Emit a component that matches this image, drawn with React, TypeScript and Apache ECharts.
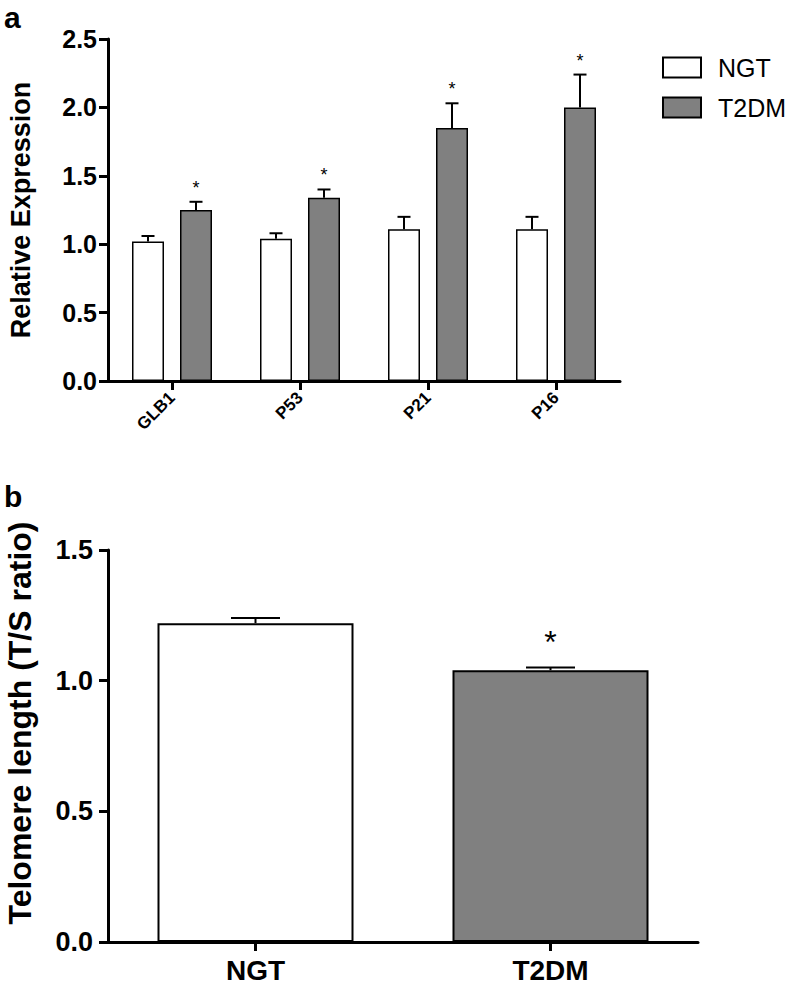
import React, { useEffect, useRef } from "react";
import * as echarts from "echarts";

const CATEGORIES_A = ["GLB1", "P53", "P21", "P16"];
const NGT_A = [1.02, 1.04, 1.11, 1.11];
const NGT_A_ERR_TOP = [1.06, 1.08, 1.2, 1.2];
const T2DM_A = [1.25, 1.34, 1.85, 2.0];
const T2DM_A_ERR_TOP = [1.31, 1.4, 2.03, 2.24];
const T2DM_A_SIG = ["*", "*", "*", "*"];
const NGT_A_SIG = ["", "", "", ""];

const CATEGORIES_B = ["NGT", "T2DM"];
const VALUES_B = [1.22, 1.04];
const ERR_TOP_B = [1.24, 1.05];
const SIG_B = ["", "*"];

const FONT = "'Liberation Sans', Arial, Helvetica, sans-serif";
const GRAY = "#808080";

function errorRenderer(offsetPx: number, capW: number, sig: string[], starSize: number, starGap: number) {
  return (params: any, api: any) => {
    const i = api.value(0);
    const base = api.coord([i, api.value(1)]);
    const top = api.coord([i, api.value(2)]);
    const cx = base[0] + offsetPx;
    const children: any[] = [
      { type: "line", shape: { x1: cx, y1: base[1], x2: cx, y2: top[1] }, style: { stroke: "#000", lineWidth: 2 } },
      { type: "line", shape: { x1: cx - capW / 2, y1: top[1], x2: cx + capW / 2, y2: top[1] }, style: { stroke: "#000", lineWidth: 2 } },
    ];
    const s = sig[params.dataIndex];
    if (s) {
      children.push({
        type: "text",
        style: { text: s, x: cx, y: top[1] - starGap, align: "center", verticalAlign: "bottom", fontSize: starSize, fontFamily: FONT, fill: "#000" },
      });
    }
    return { type: "group", children };
  };
}

export default function App() {
  const ref = useRef<HTMLDivElement>(null);
  useEffect(() => {
    document.body.style.margin = "0";
    const chart = echarts.init(ref.current!, undefined, { renderer: "svg" });
    const BAR_W_A = 32;
    const offA = (BAR_W_A * 1.5) / 2;
    const axisLine = { show: true, lineStyle: { color: "#000", width: 3 } };
    const option: any = {
      animation: false,
      backgroundColor: "#fff",
      textStyle: { fontFamily: FONT },
      graphic: [
        { type: "text", left: 4, top: 2, style: { text: "a", fontSize: 30, fontWeight: "bold", fontFamily: FONT, fill: "#000" } },
        { type: "text", left: 4, top: 481, style: { text: "b", fontSize: 30, fontWeight: "bold", fontFamily: FONT, fill: "#000" } },
      ],
      legend: {
        data: [
          { name: "NGT", icon: "rect" },
          { name: "T2DM", icon: "rect" },
        ],
        orient: "vertical",
        left: 657,
        top: 50,
        itemWidth: 38,
        itemHeight: 20,
        itemGap: 15,
        itemStyle: { borderColor: "#000", borderWidth: 2 },
        textStyle: { fontSize: 25, lineHeight: 25, fontFamily: FONT, color: "#000", padding: [0, 0, 0, 12] },
        selectedMode: false,
      },
      grid: [
        { left: 108, top: 39, width: 512, height: 342, outerBoundsMode: "none", containLabel: false },
        { left: 108, top: 550, width: 590, height: 392, outerBoundsMode: "none", containLabel: false },
      ],
      xAxis: [
        {
          type: "category",
          gridIndex: 0,
          data: CATEGORIES_A,
          axisLine,
          axisTick: { show: true, alignWithLabel: true, length: 9, lineStyle: { color: "#000", width: 3 } },
          axisLabel: { rotate: 45, fontSize: 17, fontWeight: "bold", color: "#000", margin: 14, fontFamily: FONT },
        },
        {
          type: "category",
          gridIndex: 1,
          data: CATEGORIES_B,
          axisLine,
          axisTick: { show: true, alignWithLabel: true, length: 9, lineStyle: { color: "#000", width: 3 } },
          axisLabel: { fontSize: 28, fontWeight: "bold", color: "#000", margin: 14, fontFamily: FONT },
        },
      ],
      yAxis: [
        {
          type: "value",
          gridIndex: 0,
          min: 0,
          max: 2.5,
          interval: 0.5,
          axisLine,
          axisTick: { show: true, length: 9, lineStyle: { color: "#000", width: 3 } },
          splitLine: { show: false },
          axisLabel: { fontSize: 25, fontWeight: "bold", color: "#000", margin: 11, fontFamily: FONT, formatter: (v: number) => v.toFixed(1) },
          name: "Relative Expression",
          nameLocation: "middle",
          nameGap: 74,
          nameTextStyle: { fontSize: 27, fontWeight: "bold", color: "#000", fontFamily: FONT },
        },
        {
          type: "value",
          gridIndex: 1,
          min: 0,
          max: 1.5,
          interval: 0.5,
          axisLine,
          axisTick: { show: true, length: 9, lineStyle: { color: "#000", width: 3 } },
          splitLine: { show: false },
          axisLabel: { fontSize: 27, fontWeight: "bold", color: "#000", margin: 15, fontFamily: FONT, formatter: (v: number) => v.toFixed(1) },
          name: "Telomere length (T/S ratio)",
          nameLocation: "middle",
          nameGap: 72,
          nameTextStyle: { fontSize: 32, lineHeight: 33, fontWeight: "bold", color: "#000", fontFamily: FONT, padding: [0, 0, 0, 46] },
        },
      ],
      series: [
        {
          name: "NGT",
          type: "bar",
          xAxisIndex: 0,
          yAxisIndex: 0,
          data: NGT_A,
          barWidth: BAR_W_A,
          barGap: "50%",
          itemStyle: { color: "#fff", borderColor: "#000", borderWidth: 1.5 },
        },
        {
          name: "T2DM",
          type: "bar",
          xAxisIndex: 0,
          yAxisIndex: 0,
          data: T2DM_A,
          barWidth: BAR_W_A,
          barGap: "50%",
          itemStyle: { color: GRAY, borderColor: "#000", borderWidth: 1.5 },
        },
        {
          type: "custom",
          xAxisIndex: 0,
          yAxisIndex: 0,
          z: 5,
          renderItem: errorRenderer(-offA, 13, NGT_A_SIG, 18, 5),
          data: NGT_A.map((v, i) => [i, v, NGT_A_ERR_TOP[i]]),
        },
        {
          type: "custom",
          xAxisIndex: 0,
          yAxisIndex: 0,
          z: 5,
          renderItem: errorRenderer(offA, 13, T2DM_A_SIG, 18, 5),
          data: T2DM_A.map((v, i) => [i, v, T2DM_A_ERR_TOP[i]]),
        },
        {
          name: "Telomere",
          type: "bar",
          xAxisIndex: 1,
          yAxisIndex: 1,
          barWidth: 196,
          data: VALUES_B.map((v, i) => ({ value: v, itemStyle: { color: i === 0 ? "#fff" : GRAY } })),
          itemStyle: { borderColor: "#000", borderWidth: 2 },
        },
        {
          type: "custom",
          xAxisIndex: 1,
          yAxisIndex: 1,
          z: 5,
          renderItem: errorRenderer(0, 49, SIG_B, 32, 10),
          data: VALUES_B.map((v, i) => [i, v, ERR_TOP_B[i]]),
        },
      ],
    };
    chart.setOption(option);
    return () => chart.dispose();
  }, []);
  return <div ref={ref} style={{ width: 787, height: 990 }} />;
}
